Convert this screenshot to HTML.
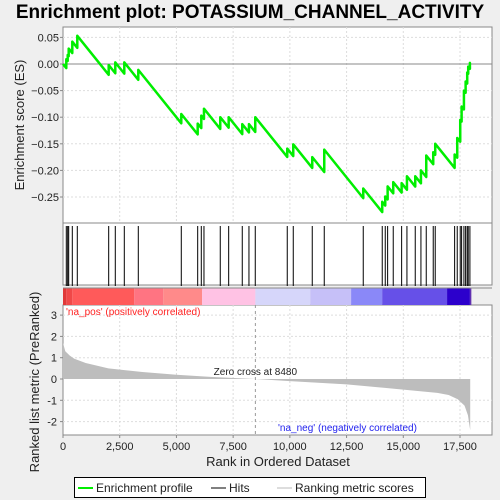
<!DOCTYPE html>
<html><head><meta charset="utf-8"><style>
body{margin:0;background:#efefef;}
svg{display:block;font-family:"Liberation Sans",sans-serif;}
</style></head><body>
<svg id="c" width="500" height="500"></svg>
<script>
const hitRanks=[145,207,251,410,630,2014,2305,2702,3319,5214,5937,6096,6214,6932,7303,7902,8197,8475,9885,10150,10987,11516,13235,14072,14205,14310,14557,14927,15161,15527,15778,16012,16320,16408,17263,17378,17510,17571,17673,17748,17818,17862,17937];
const esPeaks=[0.009,0.017,0.029,0.042,0.053,-0.002,0.003,0.003,-0.011,-0.094,-0.112,-0.097,-0.084,-0.1,-0.1,-0.113,-0.113,-0.1,-0.159,-0.151,-0.175,-0.161,-0.234,-0.259,-0.249,-0.23,-0.222,-0.224,-0.211,-0.211,-0.2,-0.172,-0.166,-0.15,-0.17,-0.139,-0.105,-0.08,-0.05,-0.033,-0.016,-0.005,0.002];
const metricRanks=[0,100,300,500,1000,2000,3500,5000,6500,8480,10000,12500,15000,16500,17000,17400,17700,17850,17920,17950];
const metricVals=[1.7,1.3,1.1,0.95,0.75,0.5,0.33,0.2,0.1,0,-0.1,-0.25,-0.5,-0.65,-0.75,-0.95,-1.25,-1.7,-2.2,-2.4];
const esTicks=[0.05,0,-0.05,-0.1,-0.15,-0.2,-0.25];
const esTickLabels=["0.05","0.00","−0.05","−0.10","−0.15","−0.20","−0.25"];
const mTicks=[3,2,1,0,-1,-2];
const xTicks=[0,2500,5000,7500,10000,12500,15000,17500];
const xTickLabels=["0","2,500","5,000","7,500","10,000","12,500","15,000","17,500"];
const barRanks=[0,145,410,3140,4420,6130,8480,10900,12700,14070,16930,17937,18000];
const barColors=["#e03838","#f04848","#ff5a5a","#ff7482","#ff8a8a","#ffc2e4","#d6d6fa","#c6c0f8","#8a88f8","#6650e8","#2c00cc","#6030b0"];
const slope=5.3e-5;
const L=63,R=492,N=18000;
const X=r=>L+r*(460-63)/17500;
const Y=v=>64-v*532;
const YM=v=>379-v*21.3;
const s=document.getElementById('c');
function el(t,a,txt){const e=document.createElementNS('http://www.w3.org/2000/svg',t);for(const k in a)e.setAttribute(k,a[k]);if(txt!==undefined)e.textContent=txt;s.appendChild(e);return e;}
let e;
e=el('text',{x:250,y:18,'text-anchor':'middle','font-size':19,'font-weight':'bold',fill:'#000'},'Enrichment plot: POTASSIUM_CHANNEL_ACTIVITY');

e=el('rect',{x:L,y:7+0.5,width:R-L,height:0,fill:'none'});
// panels
e=el('rect',{x:L,y:7,width:R-L,height:196,fill:'#fff',stroke:'#888'});e.setAttribute('y',7+20*0+0);e.setAttribute('y',7);
e.setAttribute('y',7);e.setAttribute('height',0);
e=el('rect',{x:L,y:27,width:R-L,height:196,fill:'#fff',stroke:'#888'});

e=el('rect',{x:L,y:223,width:R-L,height:62,fill:'#fff',stroke:'#888'});

e=el('rect',{x:L,y:305,width:R-L,height:130,fill:'#fff',stroke:'#888'});

// grids
xTicks.forEach(t=>{if(t>0){el('line',{x1:X(t),x2:X(t),y1:27,y2:223,stroke:'#ddd','stroke-dasharray':'2,2'});el('line',{x1:X(t),x2:X(t),y1:305,y2:435,stroke:'#ddd','stroke-dasharray':'2,2'});}});
esTicks.forEach((t,i)=>{el('line',{x1:L,x2:R,y1:Y(t),y2:Y(t),stroke:t===0?'#888':'#ddd','stroke-dasharray':t===0?'':'2,2'});
e=el('text',{x:L-4,y:Y(t)+4,'text-anchor':'end','font-size':11,fill:'#222'},esTickLabels[i]);
el('line',{x1:L-3,x2:L,y1:Y(t),y2:Y(t),stroke:'#888'});});
mTicks.forEach(t=>{if(t!==0)el('line',{x1:L,x2:R,y1:YM(t),y2:YM(t),stroke:'#ddd','stroke-dasharray':'2,2'});
e=el('text',{x:L-6,y:YM(t)+4,'text-anchor':'end','font-size':11,fill:'#222'},String(t));
el('line',{x1:L-3,x2:L,y1:YM(t),y2:YM(t),stroke:'#888'});});
xTicks.forEach((t,i)=>{el('line',{x1:X(t),x2:X(t),y1:435,y2:438,stroke:'#888'});
e=el('text',{x:X(t),y:450,'text-anchor':'middle','font-size':11,fill:'#222'},xTickLabels[i]);});
// color bar
for(let i=0;i<barColors.length;i++){e=el('rect',{x:X(barRanks[i]),y:288,width:X(barRanks[i+1])-X(barRanks[i]),height:17,fill:barColors[i]});
}
el('line',{x1:L,x2:R,y1:288,y2:288,stroke:'#888'});
// hits
hitRanks.forEach(r=>{e=el('line',{x1:X(r),x2:X(r),y1:226,y2:286,stroke:'#000','stroke-width':1});
});
// metric area
let d='M'+X(0)+','+YM(0);
metricRanks.forEach((r,i)=>{d+=' L'+X(r)+','+YM(metricVals[i]);});
d+=' L'+X(metricRanks[metricRanks.length-1])+','+YM(0)+' Z';
e=el('path',{d:d,fill:'#bdbdbd',stroke:'none'});
el('line',{x1:X(8480),x2:X(8480),y1:305,y2:435,stroke:'#999','stroke-dasharray':'3,3'});
e=el('text',{x:X(8480),y:375,'text-anchor':'middle','font-size':10,fill:'#222'},'Zero cross at 8480');
e=el('text',{x:66,y:315,'font-size':10,fill:'#f22'},"'na_pos' (positively correlated)");
e=el('text',{x:278,y:431,'font-size':10,fill:'#22e'},"'na_neg' (negatively correlated)");
// ES line
let p=[[X(0),Y(0)]],prevR=0,prevV=0;
hitRanks.forEach((r,i)=>{const pre=prevV-slope*(r-prevR);p.push([X(r),Y(pre)]);p.push([X(r),Y(esPeaks[i])]);prevR=r;prevV=esPeaks[i];});
p.push([X(N-50),Y(prevV-slope*(N-50-prevR))]);
e=el('polyline',{points:p.map(q=>q.join(',')).join(' '),fill:'none',stroke:'#00ee00','stroke-width':2.5,'stroke-linejoin':'round'});

// axis titles
e=el('text',{x:0,y:0,transform:'translate(24,125) rotate(-90)','text-anchor':'middle','font-size':13,fill:'#222'},'Enrichment score (ES)');
e=el('text',{x:0,y:0,transform:'translate(39,382) rotate(-90)','text-anchor':'middle','font-size':13,fill:'#222'},'Ranked list metric (PreRanked)');
e=el('text',{x:278,y:466,'text-anchor':'middle','font-size':13,fill:'#222'},'Rank in Ordered Dataset');
// legend
e=el('rect',{x:74.5,y:477.5,width:351,height:20,fill:'#fff',stroke:'#000'});
el('line',{x1:78,x2:93,y1:488,y2:488,stroke:'#00ee00','stroke-width':2});
e=el('text',{x:96,y:492,'font-size':12,fill:'#222'},'Enrichment profile');
el('line',{x1:211,x2:226,y1:488,y2:488,stroke:'#000','stroke-width':1});
e=el('text',{x:229,y:492,'font-size':12,fill:'#222'},'Hits');
el('line',{x1:277,x2:292,y1:488,y2:488,stroke:'#bbb','stroke-width':1});
e=el('text',{x:295,y:492,'font-size':12,fill:'#222'},'Ranking metric scores');
</script>
</body></html>
